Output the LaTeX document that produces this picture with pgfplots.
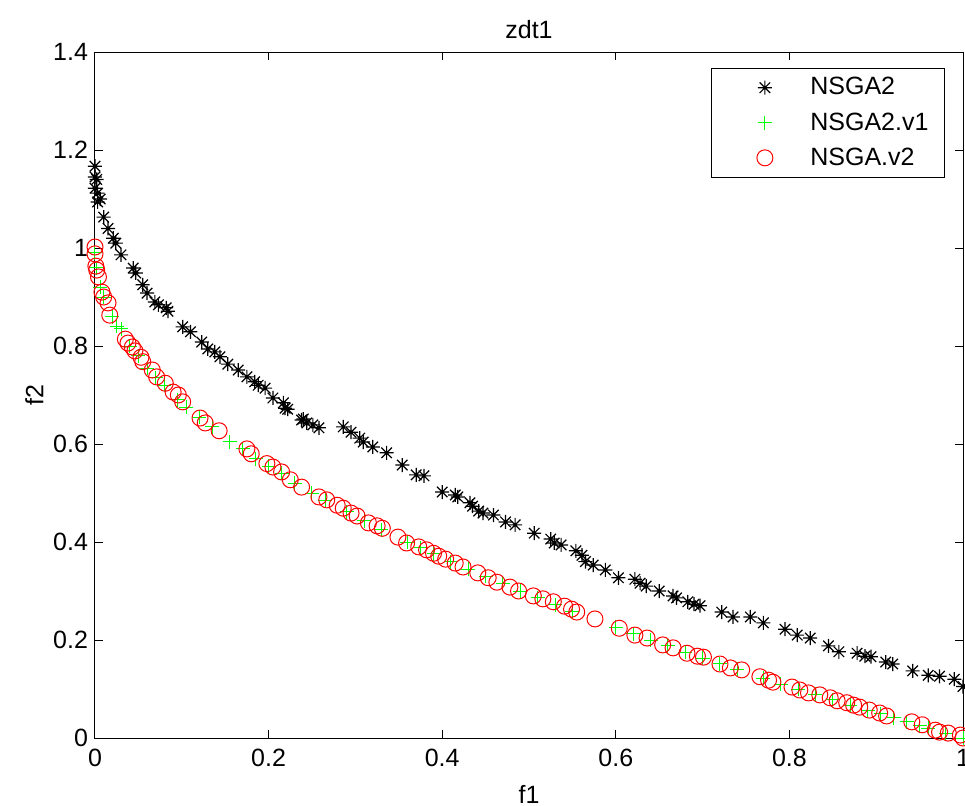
\documentclass[border=0pt]{standalone}
\usepackage{fontspec}
\setmainfont{Liberation Sans}
\usepackage{pgfplots}
\pgfplotsset{compat=1.18}
% MATLAB style '*' marker: a plus laid over a cross
\pgfdeclareplotmark{mstar}{%
  \pgfpathmoveto{\pgfqpoint{-\pgfplotmarksize}{0pt}}%
  \pgfpathlineto{\pgfqpoint{\pgfplotmarksize}{0pt}}%
  \pgfpathmoveto{\pgfqpoint{0pt}{-\pgfplotmarksize}}%
  \pgfpathlineto{\pgfqpoint{0pt}{\pgfplotmarksize}}%
  \pgfpathmoveto{\pgfqpoint{-0.75\pgfplotmarksize}{-0.75\pgfplotmarksize}}%
  \pgfpathlineto{\pgfqpoint{0.75\pgfplotmarksize}{0.75\pgfplotmarksize}}%
  \pgfpathmoveto{\pgfqpoint{-0.75\pgfplotmarksize}{0.75\pgfplotmarksize}}%
  \pgfpathlineto{\pgfqpoint{0.75\pgfplotmarksize}{-0.75\pgfplotmarksize}}%
  \pgfusepathqstroke}
\newcommand{\mfont}{\fontsize{12.5}{14}\selectfont}

\begin{document}
\begin{tikzpicture}
\begin{axis}[
  name=ax,
  scale only axis,
  width=434pt, height=343pt,
  xmin=0, xmax=1, ymin=0, ymax=1.4,
  xtick={0,0.2,...,1.0}, ytick={0,0.2,...,1.4},
  xticklabels={0,0.2,0.4,0.6,0.8,1},
  yticklabels={0,0.2,0.4,0.6,0.8,1,1.2,1.4},
  tick align=inside, major tick length=4pt,
  axis line style={black, line width=0.5pt},
  tick style={black, line width=0.5pt},
  every tick label/.style={font=\mfont},
  xticklabel style={yshift=-2pt},
  label style={font=\mfont},
  title style={font=\mfont, yshift=-3pt},
  title={zdt1}, xlabel={f1}, ylabel={f2},
  xlabel style={yshift=-2.5pt},
  ylabel style={yshift=-2pt},
  clip=false,
  legend style={at={(rel axis cs:1,1)}, anchor=north east,
    xshift=-9pt, yshift=-8pt, draw=black, line width=0.5pt,
    font=\mfont, inner xsep=6pt, inner ysep=2.5pt,
    row sep=3.3pt},
  legend cell align=left,
  legend image code/.code={\draw[#1] (20.5pt,0pt) -- plot coordinates {(20.5pt,0pt)};
    \path (0pt,0pt) (41pt,0pt);},
]
% NSGA2
\addplot[only marks, mark=mstar, mark size=3.5pt, black, mark options={line width=0.6pt}] coordinates {
(0,1.167) (0,1.145) (0.002,1.14) (0,1.122) (0.003,1.112) (0.006,1.10) (0.003,1.094)
(0.01,1.063) (0.015,1.04) (0.021,1.02) (0.024,1.01) (0.03,0.986) (0.044,0.959)
(0.047,0.949) (0.055,0.925) (0.06,0.908) (0.069,0.89) (0.073,0.884) (0.082,0.878)
(0.084,0.871) (0.101,0.839) (0.11,0.829) (0.123,0.808) (0.13,0.794) (0.138,0.788)
(0.144,0.778) (0.153,0.763) (0.165,0.751) (0.175,0.737) (0.184,0.727) (0.188,0.72)
(0.196,0.714) (0.205,0.694) (0.217,0.684) (0.219,0.673) (0.222,0.671) (0.238,0.649)
(0.24,0.651) (0.244,0.643) (0.251,0.639) (0.258,0.633) (0.286,0.635) (0.295,0.624)
(0.305,0.612) (0.309,0.604) (0.32,0.594) (0.336,0.582) (0.354,0.557) (0.37,0.537)
(0.379,0.535) (0.40,0.502) (0.415,0.496) (0.418,0.492) (0.432,0.48) (0.435,0.473)
(0.442,0.463) (0.447,0.459) (0.459,0.455) (0.473,0.441) (0.484,0.435) (0.506,0.418)
(0.525,0.406) (0.529,0.398) (0.537,0.394) (0.554,0.382) (0.561,0.373) (0.565,0.36)
(0.574,0.353) (0.588,0.343) (0.603,0.327) (0.622,0.324) (0.628,0.316) (0.635,0.31)
(0.65,0.30) (0.666,0.29) (0.67,0.286) (0.683,0.278) (0.69,0.273) (0.697,0.27)
(0.722,0.257) (0.735,0.247) (0.755,0.247) (0.77,0.235) (0.795,0.222) (0.809,0.21)
(0.824,0.204) (0.845,0.188) (0.857,0.176) (0.878,0.173) (0.887,0.167) (0.894,0.166)
(0.911,0.155) (0.919,0.151) (0.942,0.137) (0.96,0.128) (0.973,0.126) (0.99,0.12)
(1.0,0.105)
};
\addlegendentry{NSGA2}
% NSGA2.v1
\addplot[only marks, mark=+, mark size=3.5pt, color={rgb,1:red,0;green,1;blue,0}, mark options={line width=0.5pt}] coordinates {
(0,0.99) (0.002,0.96) (0.006,0.92) (0.01,0.90) (0.02,0.86) (0.025,0.84) (0.03,0.835)
(0.04,0.80) (0.05,0.78) (0.06,0.755) (0.07,0.735) (0.08,0.72) (0.095,0.69)
(0.105,0.675) (0.12,0.655) (0.135,0.635) (0.155,0.605) (0.17,0.59) (0.185,0.57)
(0.2,0.555) (0.215,0.54) (0.23,0.52) (0.25,0.5) (0.265,0.485) (0.29,0.462)
(0.31,0.443) (0.33,0.425) (0.36,0.4) (0.375,0.388) (0.39,0.376) (0.41,0.36)
(0.43,0.344) (0.45,0.33) (0.47,0.315) (0.49,0.3) (0.51,0.286) (0.53,0.272)
(0.55,0.258) (0.6,0.226) (0.62,0.213) (0.64,0.2) (0.66,0.188) (0.68,0.175)
(0.7,0.163) (0.72,0.152) (0.74,0.14) (0.77,0.122) (0.79,0.11) (0.81,0.1)
(0.83,0.089) (0.85,0.078) (0.87,0.067) (0.89,0.057) (0.905,0.049) (0.92,0.041)
(0.935,0.033) (0.95,0.025) (0.96,0.02) (0.98,0.01) (1,0)
};
\addlegendentry{NSGA2.v1}
% NSGA.v2
\addplot[only marks, mark=o, mark size=4pt, red, mark options={line width=0.5pt}] coordinates {
(0,1.002) (0,0.988) (0.001,0.963) (0.002,0.955) (0.004,0.941) (0.008,0.91) (0.01,0.90)
(0.015,0.888) (0.017,0.863) (0.035,0.814) (0.038,0.806) (0.043,0.798) (0.046,0.79)
(0.053,0.777) (0.055,0.768) (0.066,0.751) (0.071,0.737) (0.081,0.724) (0.09,0.706)
(0.096,0.70) (0.101,0.686) (0.121,0.653) (0.127,0.643) (0.143,0.627) (0.175,0.59)
(0.18,0.58) (0.198,0.56) (0.205,0.553) (0.215,0.543) (0.225,0.527) (0.238,0.512)
(0.258,0.492) (0.267,0.486) (0.279,0.475) (0.286,0.469) (0.295,0.459) (0.302,0.453)
(0.315,0.439) (0.325,0.433) (0.331,0.428) (0.349,0.41) (0.359,0.398) (0.373,0.39)
(0.382,0.384) (0.39,0.377) (0.396,0.371) (0.404,0.365) (0.415,0.357) (0.424,0.349)
(0.441,0.337) (0.453,0.327) (0.463,0.318) (0.478,0.308) (0.488,0.30) (0.505,0.29)
(0.516,0.284) (0.528,0.278) (0.541,0.269) (0.549,0.263) (0.555,0.257) (0.576,0.243)
(0.604,0.224) (0.622,0.21) (0.636,0.204) (0.654,0.19) (0.666,0.184) (0.682,0.173)
(0.694,0.167) (0.701,0.165) (0.72,0.151) (0.732,0.143) (0.745,0.139) (0.766,0.125)
(0.776,0.118) (0.781,0.114) (0.803,0.104) (0.812,0.098) (0.822,0.092) (0.835,0.088)
(0.847,0.082) (0.855,0.076) (0.866,0.072) (0.874,0.067) (0.881,0.063) (0.892,0.057)
(0.904,0.051) (0.912,0.045) (0.941,0.033) (0.953,0.027) (0.968,0.016) (0.973,0.012)
(0.983,0.01) (0.997,0.006) (1,0)
};
\addlegendentry{NSGA.v2}
\end{axis}
\pgfresetboundingbox
\path ([xshift=-47.5pt,yshift=-33.5pt]ax.south west) rectangle ([xshift=1pt,yshift=26pt]ax.north east);
\end{tikzpicture}
\end{document}
